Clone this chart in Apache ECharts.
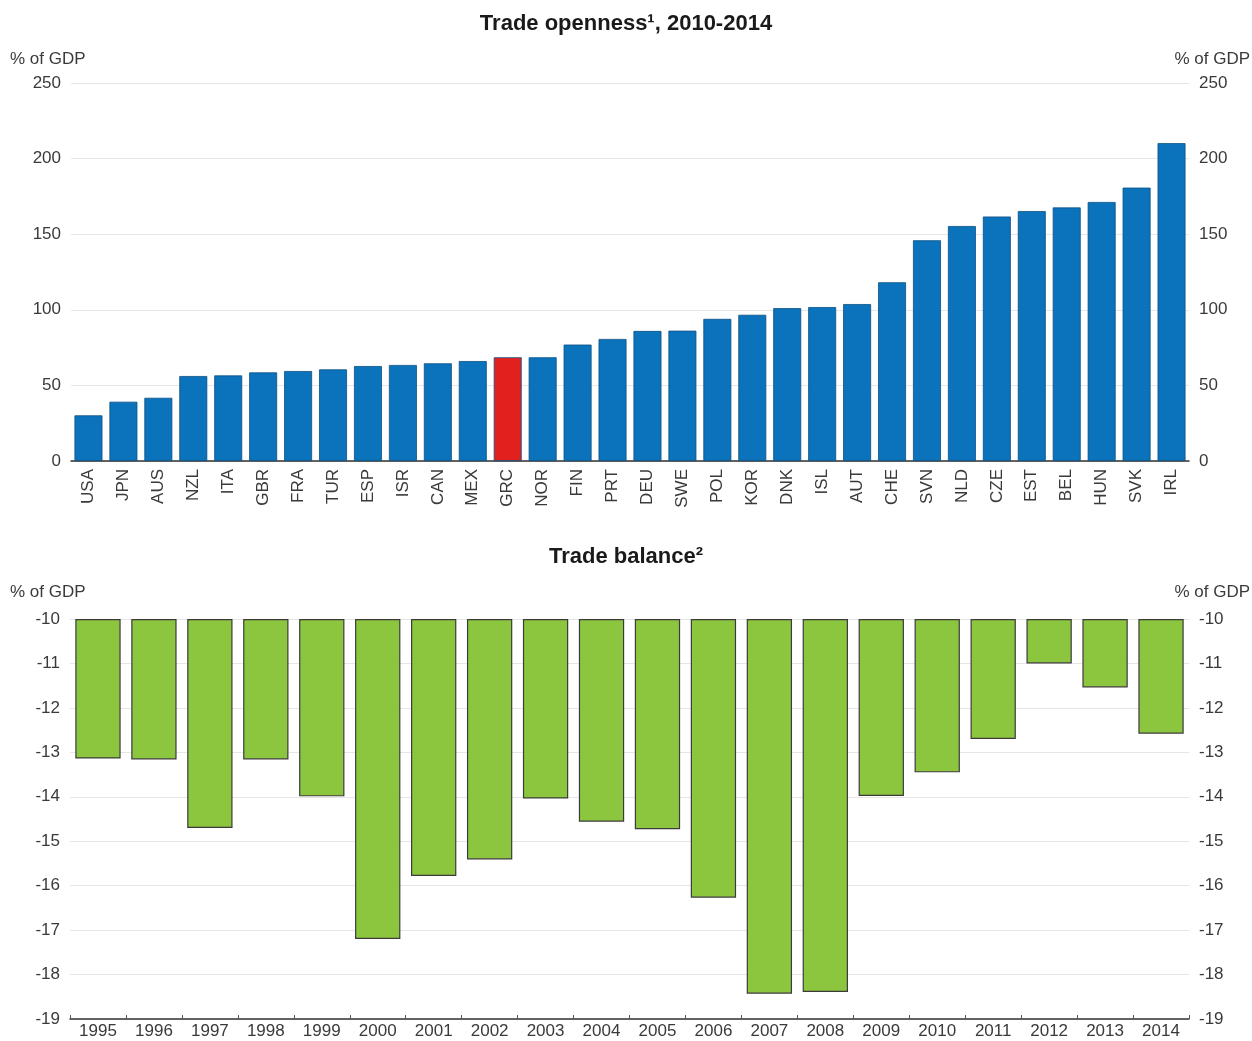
<!DOCTYPE html>
<html>
<head>
<meta charset="utf-8">
<script src="https://cdn.jsdelivr.net/npm/echarts@6/dist/echarts.min.js"></script>
<style>
html,body{margin:0;padding:0;background:#ffffff;}
#chart{width:1252px;height:1041px;}
</style>
</head>
<body>
<div id="chart"></div>
<script>
// ---- Data ----
const countries = ['USA','JPN','AUS','NZL','ITA','GBR','FRA','TUR','ESP','ISR','CAN','MEX','GRC','NOR','FIN','PRT','DEU','SWE','POL','KOR','DNK','ISL','AUT','CHE','SVN','NLD','CZE','EST','BEL','HUN','SVK','IRL'];
const openness = [30.2,39.2,41.8,56.2,56.6,58.6,59.5,60.6,62.8,63.5,64.6,66.1,68.6,68.6,77.0,80.7,86.0,86.2,94.0,96.7,101.1,101.8,103.8,118.2,146.0,155.4,161.7,165.3,167.7,171.3,180.8,210.2];
const highlightCountry = 'GRC';
const years = ['1995','1996','1997','1998','1999','2000','2001','2002','2003','2004','2005','2006','2007','2008','2009','2010','2011','2012','2013','2014'];
const tradeBalance = [-13.14,-13.16,-14.70,-13.16,-13.99,-17.20,-15.78,-15.41,-14.04,-14.56,-14.73,-16.27,-18.43,-18.39,-13.98,-13.45,-12.70,-11.00,-11.54,-12.58];
const opennessTicks = {min:0, max:250, interval:50};
const balanceTicks = {min:-19, max:-10, interval:1};

const FONT = '"Liberation Sans", Arial, sans-serif';
const BLUE = '#0b73bc', RED = '#e2211f', GREEN = '#8cc63f';
const labelColor = '#3a3a3a';
const FS = 17;

const opennessData = countries.map((c,i)=>({
  value: openness[i],
  itemStyle: c === highlightCountry ? {color: RED} : undefined
}));

function yAx(gridIndex, ticks, position, extra){
  return Object.assign({
    type:'value', gridIndex, position,
    min: ticks.min, max: ticks.max, interval: ticks.interval,
    axisLine:{show:false}, axisTick:{show:false},
    axisLabel:{color:labelColor, fontSize:FS, fontFamily:FONT, margin:10},
    splitLine:{show: position==='left', lineStyle:{color:'#e6e6e6', width:1.2}}
  }, extra||{});
}

const chart = echarts.init(document.getElementById('chart'), null, {renderer:'canvas'});
chart.setOption({
  backgroundColor:'#ffffff',
  animation:false,
  title:[
    {text:'Trade openness\u00b9, 2010-2014', left:'center', top:8, textStyle:{fontFamily:FONT, fontSize:22, fontWeight:'bold', color:'#1a1a1a'}},
    {text:'Trade balance\u00b2', left:'center', top:541, textStyle:{fontFamily:FONT, fontSize:22, fontWeight:'bold', color:'#1a1a1a'}},
    {text:'% of GDP', left:5, top:46, textStyle:{fontFamily:FONT, fontSize:FS, fontWeight:'normal', color:labelColor}},
    {text:'% of GDP', right:-3, top:46, textStyle:{fontFamily:FONT, fontSize:FS, fontWeight:'normal', color:labelColor}},
    {text:'% of GDP', left:5, top:579, textStyle:{fontFamily:FONT, fontSize:FS, fontWeight:'normal', color:labelColor}},
    {text:'% of GDP', right:-3, top:579, textStyle:{fontFamily:FONT, fontSize:FS, fontWeight:'normal', color:labelColor}}
  ],
  grid:[
    {left:71, right:63, top:83, height:378, containLabel:false},
    {left:70, right:63, top:619, height:400, containLabel:false}
  ],
  xAxis:[
    {type:'category', gridIndex:0, data:countries,
     axisLine:{show:true, onZero:false, lineStyle:{color:'#333', width:1.5}},
     axisTick:{show:false},
     axisLabel:{rotate:90, color:labelColor, fontSize:FS, fontFamily:FONT, margin:8, interval:0}},
    {type:'category', gridIndex:1, data:years,
     axisLine:{show:true, onZero:false, lineStyle:{color:'#333', width:1.5}},
     axisTick:{show:true, inside:true, length:4, lineStyle:{color:'#555'}},
     axisLabel:{color:labelColor, fontSize:FS, fontFamily:FONT, margin:4, interval:0}}
  ],
  yAxis:[
    yAx(0, opennessTicks, 'left'),
    yAx(0, opennessTicks, 'right'),
    yAx(1, balanceTicks, 'left', {startValue: balanceTicks.max}),
    yAx(1, balanceTicks, 'right')
  ],
  series:[
    {type:'bar', xAxisIndex:0, yAxisIndex:0, data:opennessData, barCategoryGap:'20%',
     itemStyle:{color:BLUE, borderColor:'#0a4f82', borderWidth:0.8}},
    {type:'bar', xAxisIndex:1, yAxisIndex:2, data:tradeBalance, barCategoryGap:'19%', clip:true,
     itemStyle:{color:GREEN, borderColor:'#3b3b3b', borderWidth:1.2}}
  ]
});
</script>
</body>
</html>
